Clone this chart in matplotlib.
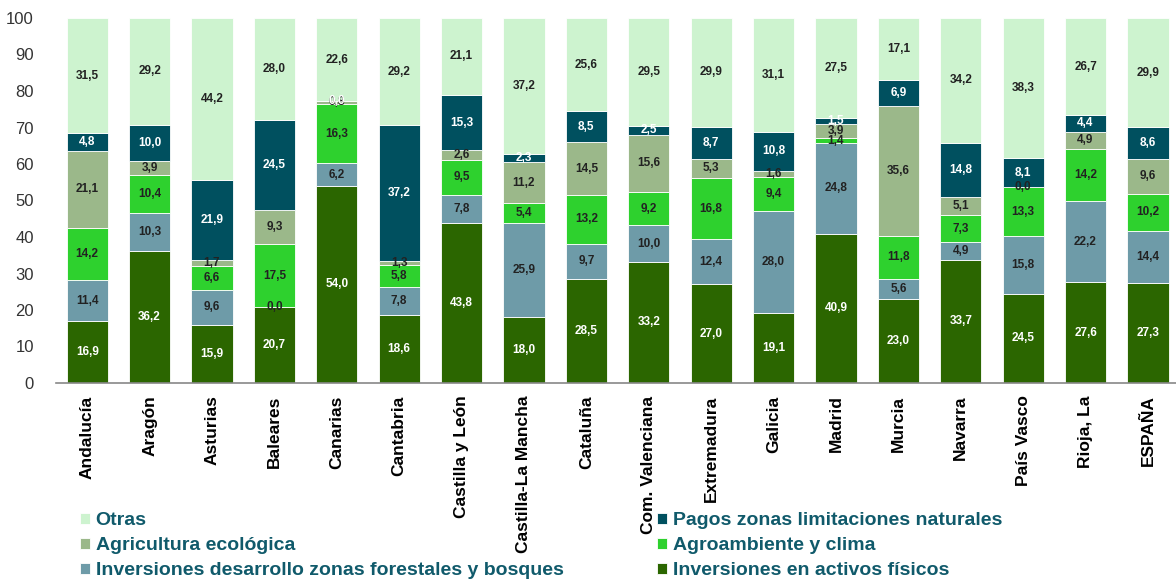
import matplotlib
matplotlib.use("Agg")
import matplotlib.pyplot as plt
import numpy as np

categories = ["Andalucía", "Aragón", "Asturias", "Baleares", "Canarias", "Cantabria",
              "Castilla y León", "Castilla-La Mancha", "Cataluña", "Com. Valenciana",
              "Extremadura", "Galicia", "Madrid", "Murcia", "Navarra", "País Vasco",
              "Rioja, La", "ESPAÑA"]

activos_fisicos = [16.9, 36.2, 15.9, 20.7, 54.0, 18.6, 43.8, 18.0, 28.5, 33.2, 27.0, 19.1, 40.9, 23.0, 33.7, 24.5, 27.6, 27.3]
forestales      = [11.4, 10.3, 9.6, 0.0, 6.2, 7.8, 7.8, 25.9, 9.7, 10.0, 12.4, 28.0, 24.8, 5.6, 4.9, 15.8, 22.2, 14.4]
agroambiente    = [14.2, 10.4, 6.6, 17.5, 16.3, 5.8, 9.5, 5.4, 13.2, 9.2, 16.8, 9.4, 1.4, 11.8, 7.3, 13.3, 14.2, 10.2]
ecologica       = [21.1, 3.9, 1.7, 9.3, 0.8, 1.3, 2.6, 11.2, 14.5, 15.6, 5.3, 1.6, 3.9, 35.6, 5.1, 0.0, 4.9, 9.6]
limitaciones    = [4.8, 10.0, 21.9, 24.5, 0.0, 37.2, 15.3, 2.3, 8.5, 2.5, 8.7, 10.8, 1.5, 6.9, 14.8, 8.1, 4.4, 8.6]
otras           = [31.5, 29.2, 44.2, 28.0, 22.6, 29.2, 21.1, 37.2, 25.6, 29.5, 29.9, 31.1, 27.5, 17.1, 34.2, 38.3, 26.7, 29.9]

series_names = ["Inversiones en activos físicos", "Inversiones desarrollo zonas forestales y bosques",
                "Agroambiente y clima", "Agricultura ecológica",
                "Pagos zonas limitaciones naturales", "Otras"]
series_vals = [activos_fisicos, forestales, agroambiente, ecologica, limitaciones, otras]
colors = ["#2b6600", "#6e9ba8", "#2ed12e", "#9bb88a", "#00505f", "#cdf3cf"]
text_colors = ["white", "#222222", "#222222", "#222222", "white", "#222222"]

fig = plt.figure(figsize=(11.76, 5.8), dpi=100)
ax = fig.add_axes([56/1176, 1 - 383/580, 1 - 56/1176, (383 - 18)/580])

x = np.arange(len(categories))
bottom = np.zeros(len(categories))
containers = {}
for name, vals, c, tc in zip(series_names, series_vals, colors, text_colors):
    v = np.array(vals)
    bars = ax.bar(x, v, 0.66, bottom=bottom, color=c, edgecolor="white", linewidth=0.6, label=name)
    containers[name] = bars
    for xi, b, val in zip(x, bottom, v):
        ax.text(xi, b + val / 2, f"{val:.1f}".replace(".", ","), ha="center", va="center",
                fontsize=8.5, fontweight="bold", color=tc, family="Liberation Sans")
    bottom += v

ax.set_xlim(-0.5, 17.45)
ax.set_ylim(0, 100)
ax.set_yticks(range(0, 101, 10))
ax.tick_params(axis="y", length=0, pad=16, labelsize=12, labelcolor="#333333")
ax.tick_params(axis="x", length=0, pad=9)
for lab in ax.get_yticklabels():
    lab.set_family("Liberation Sans")
ax.set_xticks(x)
ax.set_xticklabels(categories, rotation=90, fontsize=12.5, fontweight="bold", family="Liberation Sans", va="top")
for s in ["top", "right", "left"]:
    ax.spines[s].set_visible(False)
ax.spines["bottom"].set_color("#888888")
ax.spines["bottom"].set_linewidth(1.2)

legend_col1 = ["Otras", "Agricultura ecológica", "Inversiones desarrollo zonas forestales y bosques"]
legend_col2 = ["Pagos zonas limitaciones naturales", "Agroambiente y clima", "Inversiones en activos físicos"]
for names, xpos in [(legend_col1, 80/1176), (legend_col2, 657/1176)]:
    leg = fig.legend([containers[n] for n in names], names, loc="upper left",
                     bbox_to_anchor=(xpos, (580 - 512)/580), frameon=False, borderpad=0,
                     borderaxespad=0, handlelength=0.5, handleheight=0.5, handletextpad=0.3,
                     labelspacing=0.42,
                     prop={"family": "Liberation Sans", "weight": "bold", "size": 14})
    for t in leg.get_texts():
        t.set_color("#105a6b")

fig.savefig("out.png", dpi=100)
